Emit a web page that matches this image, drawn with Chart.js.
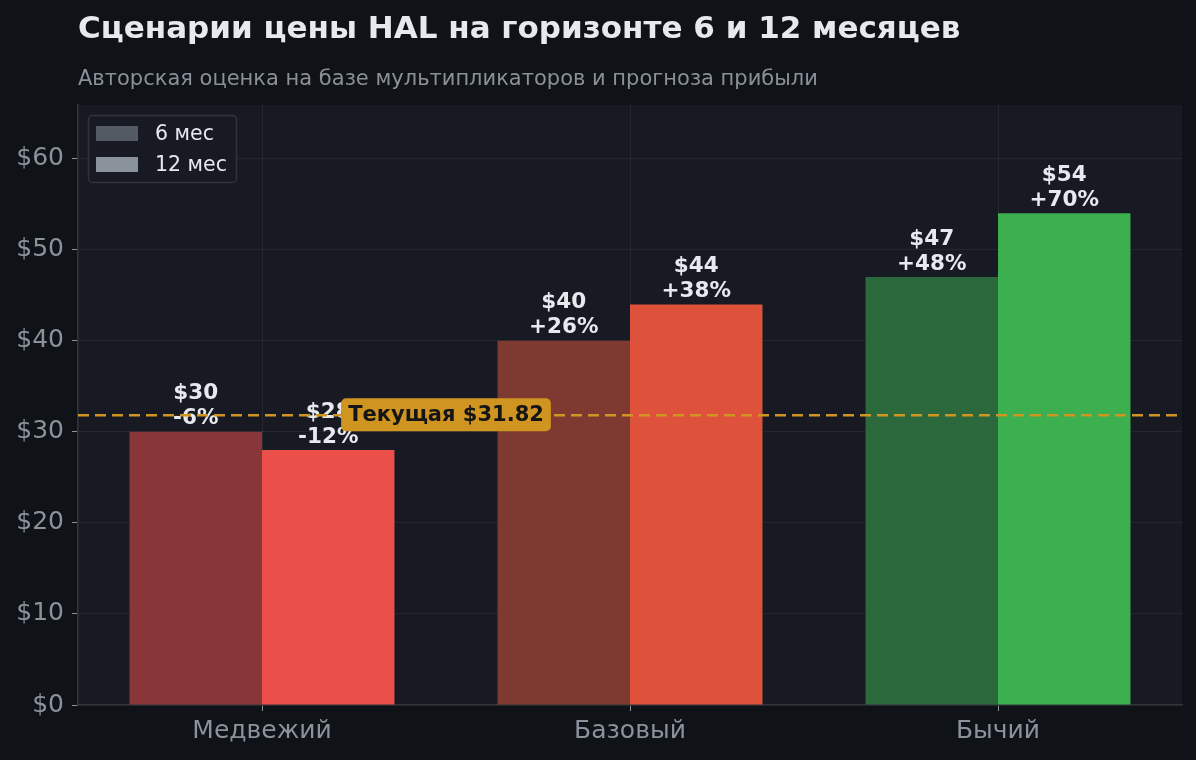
<!DOCTYPE html>
<html>
<head>
<meta charset="utf-8">
<script src="https://cdn.jsdelivr.net/npm/chart.js@4.4.0/dist/chart.umd.min.js"></script>
<style>
  html, body { margin: 0; padding: 0; background: #0f1317; }
</style>
</head>
<body>
<canvas id="chart" width="1196" height="760"></canvas>
<script>
// данные сценариев
const scenarios = ['Медвежий', 'Базовый', 'Бычий'];
const price6m = [30, 40, 47];
const price12m = [28, 44, 54];
const currentPrice = 31.82;
const yTicks = [0, 10, 20, 30, 40, 50, 60];
const seriesNames = ['6 мес', '12 мес'];

const colors6m = ['#89363a', '#7e3a31', '#2b693c'];
const colors12m = ['#eb4f4a', '#de523c', '#3caf4f'];
const legendColors = ['#545a63', '#8a929b'];

const FONT = '"DejaVu Sans", sans-serif';
const TEXT = '#e6e9ee';
const MUTED = '#8b929c';
const GOLD = '#d09520';

function pct(v) {
    const p = Math.round((v / currentPrice - 1) * 100);
    return (p > 0 ? '+' : '') + p + '%';
}

function roundRect(ctx, x, y, w, h, r) {
    ctx.beginPath();
    ctx.moveTo(x + r, y);
    ctx.arcTo(x + w, y, x + w, y + h, r);
    ctx.arcTo(x + w, y + h, x, y + h, r);
    ctx.arcTo(x, y + h, x, y, r);
    ctx.arcTo(x, y, x + w, y, r);
    ctx.closePath();
}

const backdrop = {
    id: 'backdrop',
    beforeDraw(chart) {
        const ctx = chart.ctx, a = chart.chartArea;
        ctx.save();
        ctx.fillStyle = '#0f1317';
        ctx.fillRect(0, 0, chart.width, chart.height);
        ctx.fillStyle = '#171a22';
        ctx.fillRect(a.left, a.top, a.right - a.left, a.bottom - a.top);

        // заголовки
        ctx.textAlign = 'left';
        ctx.textBaseline = 'alphabetic';
        ctx.fillStyle = TEXT;
        ctx.font = 'bold 31px ' + FONT;
        ctx.fillText('Сценарии цены HAL на горизонте 6 и 12 месяцев', 78, 38);
        ctx.fillStyle = '#8b9098';
        ctx.font = '21px ' + FONT;
        ctx.fillText('Авторская оценка на базе мультипликаторов и прогноза прибыли', 78, 85);
        ctx.restore();
    }
};

const overlay = {
    id: 'overlay',
    afterDatasetsDraw(chart) {
        const ctx = chart.ctx, a = chart.chartArea;
        const y = chart.scales.y, x = chart.scales.x;
        ctx.save();

        // подписи над столбцами
        ctx.font = 'bold 21.5px ' + FONT;
        ctx.fillStyle = TEXT;
        ctx.textAlign = 'center';
        ctx.textBaseline = 'middle';
        chart.data.datasets.forEach((ds, di) => {
            chart.getDatasetMeta(di).data.forEach((bar, i) => {
                const v = ds.data[i];
                ctx.fillText('$' + v, bar.x, bar.y - 38);
                ctx.fillText(pct(v), bar.x, bar.y - 13);
            });
        });

        // текущая цена
        const cy = y.getPixelForValue(currentPrice);
        ctx.strokeStyle = GOLD;
        ctx.lineWidth = 2.5;
        ctx.setLineDash([11, 6]);
        ctx.beginPath();
        ctx.moveTo(a.left, cy);
        ctx.lineTo(a.right, cy);
        ctx.stroke();
        ctx.setLineDash([]);

        const label = 'Текущая $' + currentPrice.toFixed(2);
        ctx.font = 'bold 21px ' + FONT;
        const tw = ctx.measureText(label).width;
        const cx = x.getPixelForValue(0.5);
        roundRect(ctx, cx - tw / 2 - 7, cy - 17, tw + 14, 33, 5);
        ctx.fillStyle = GOLD;
        ctx.fill();
        ctx.fillStyle = '#151515';
        ctx.fillText(label, cx, cy);

        // легенда
        roundRect(ctx, 88.5, 115.5, 148, 67, 4);
        ctx.fillStyle = '#171a22';
        ctx.fill();
        ctx.strokeStyle = '#30343c';
        ctx.lineWidth = 1.5;
        ctx.stroke();
        ctx.font = '20.5px ' + FONT;
        ctx.textAlign = 'left';
        seriesNames.forEach((name, i) => {
            const ly = 133 + i * 31;
            ctx.fillStyle = legendColors[i];
            ctx.fillRect(96, ly - 7, 42, 15);
            ctx.fillStyle = TEXT;
            ctx.fillText(name, 155, ly + 1.5);
        });
        ctx.restore();
    }
};

new Chart(document.getElementById('chart'), {
    type: 'bar',
    data: {
        labels: scenarios,
        datasets: [
            { label: seriesNames[0], data: price6m, backgroundColor: colors6m },
            { label: seriesNames[1], data: price12m, backgroundColor: colors12m }
        ]
    },
    options: {
        responsive: false,
        animation: false,
        devicePixelRatio: 1,
        layout: { padding: { top: 105, right: 14, left: 0, bottom: 0 } },
        datasets: { bar: { categoryPercentage: 0.72, barPercentage: 1.0 } },
        plugins: {
            legend: { display: false },
            tooltip: { enabled: false }
        },
        scales: {
            x: {
                z: 1,
                afterFit(s) { s.height = 55; },
                grid: { offset: false, color: 'rgba(255,255,255,0.06)', tickLength: 6, tickColor: MUTED },
                border: { color: '#30343c', width: 1.5 },
                ticks: { color: MUTED, font: { family: FONT, size: 25 }, padding: 5 }
            },
            y: {
                z: 1,
                min: 0,
                max: 65.9,
                afterFit(s) { s.width = 78; },
                afterBuildTicks(s) { s.ticks = yTicks.map(v => ({ value: v })); },
                grid: { color: 'rgba(255,255,255,0.06)', tickLength: 6, tickColor: MUTED },
                border: { color: '#30343c', width: 1.5 },
                ticks: {
                    color: MUTED,
                    font: { family: FONT, size: 25 },
                    padding: 8,
                    callback: v => '$' + v
                }
            }
        }
    },
    plugins: [backdrop, overlay]
});
</script>
</body>
</html>
